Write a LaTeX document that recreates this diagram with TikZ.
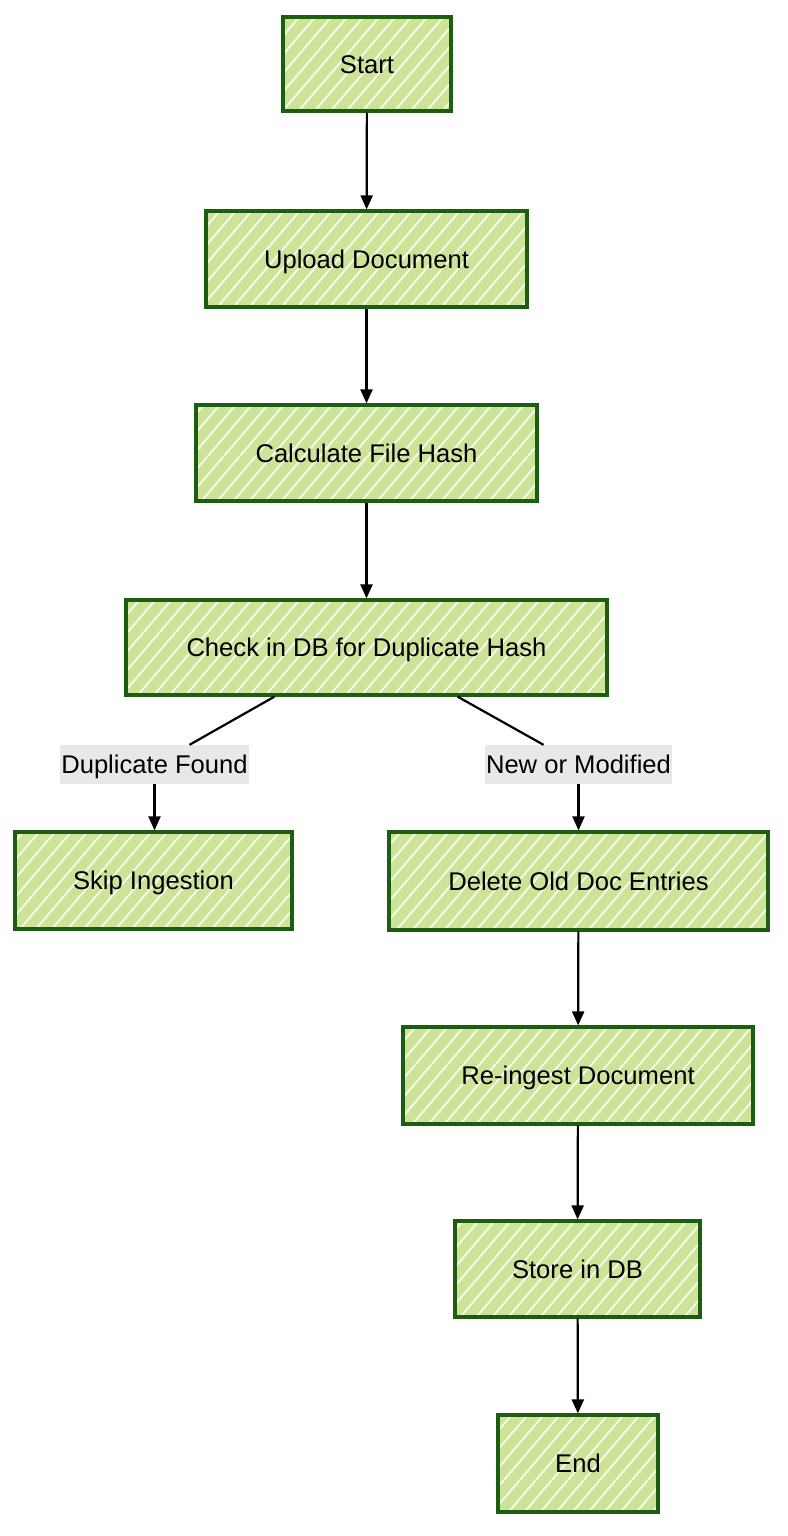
\documentclass[tikz,border=0pt]{standalone}
\usepackage{fontspec}
\setmainfont{Liberation Sans}
\usetikzlibrary{arrows.meta,calc}
\definecolor{boxfill}{HTML}{CDE498}
\definecolor{boxline}{HTML}{1B5E12}
\definecolor{labelbg}{HTML}{E8E8E8}
\tikzset{
  flowbox/.style={draw=boxline, line width=3.2pt, fill=boxfill, font=\fontsize{25.6}{30}\selectfont,
    inner sep=0pt, align=center, text height=22pt, text depth=3.6pt,
    path picture={
      \foreach \i in {-364,-348,...,364}{
        \draw[white, line width=1.8pt, opacity=0.85]
          ($(path picture bounding box.center)+(\i pt-60pt,-70pt)$) -- ++(120pt,140pt);
      }
    }},
  edgelabel/.style={fill=labelbg, font=\fontsize{25.6}{30}\selectfont, inner xsep=1.5pt,
    inner ysep=0pt, minimum height=39pt, text height=22pt, text depth=3.6pt},
  conn/.style={line width=2.2pt, black},
  arr/.style={conn, -{Triangle[length=14pt,width=12pt]}}
}
\begin{document}
\begin{tikzpicture}[x=1pt,y=-1pt]
\useasboundingbox (0,0) rectangle (787,1536);
\node[flowbox, minimum width=168pt, minimum height=94pt] (start) at (367,64) {Start};
\node[flowbox, minimum width=321pt, minimum height=96pt] (upload) at (366.5,259) {Upload Document};
\node[flowbox, minimum width=341pt, minimum height=96pt] (hash) at (366.5,453) {Calculate File Hash};
\node[flowbox, minimum width=481pt, minimum height=95pt] (check) at (366.5,647.5) {Check in DB for Duplicate Hash};
\node[flowbox, minimum width=277pt, minimum height=97pt] (skip) at (153.5,880.5) {Skip Ingestion};
\node[flowbox, minimum width=379pt, minimum height=98pt] (delete) at (578.5,881) {Delete Old Doc Entries};
\node[flowbox, minimum width=350pt, minimum height=97pt] (reingest) at (578,1075.5) {Re-ingest Document};
\node[flowbox, minimum width=245pt, minimum height=96pt] (store) at (577.5,1269) {Store in DB};
\node[flowbox, minimum width=160pt, minimum height=97pt] (end) at (578,1463.5) {End};

\node[edgelabel] (dup) at (154.5,764.5) {Duplicate Found};
\node[edgelabel] (new) at (578.5,764.5) {New or Modified};

\draw[arr] (start) -- (upload);
\draw[arr] (upload) -- (hash);
\draw[arr] (hash) -- (check);
\draw[conn] ([xshift=-92pt]check.south) -- ([xshift=35pt]dup.north);
\draw[conn] ([xshift=91pt]check.south) -- ([xshift=-35pt]new.north);
\draw[arr] (dup) -- (dup |- skip.north);
\draw[arr] (new) -- (new |- delete.north);
\draw[arr] (delete) -- (reingest);
\draw[arr] (reingest) -- (store);
\draw[arr] (store) -- (end);
\end{tikzpicture}
\end{document}
